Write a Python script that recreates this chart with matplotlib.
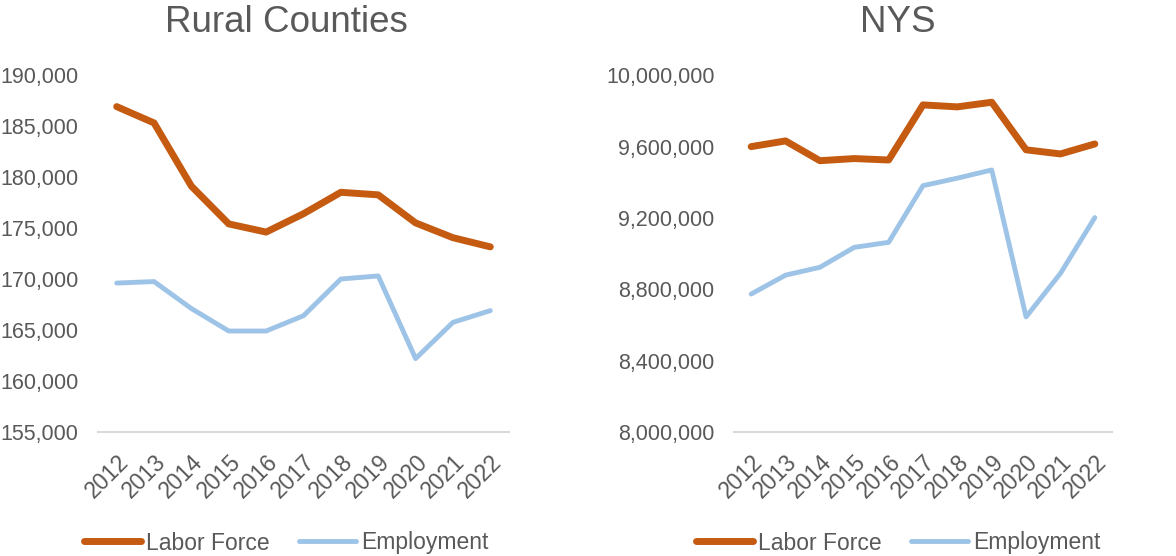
import matplotlib.pyplot as plt
from matplotlib.ticker import FuncFormatter

plt.rcParams['font.family'] = ['Liberation Sans', 'DejaVu Sans']

# Data
years = ['2012', '2013', '2014', '2015', '2016', '2017', '2018', '2019', '2020', '2021', '2022']

rural_labor = [186900, 185300, 179100, 175400, 174600, 176400, 178500, 178250, 175500, 174050, 173150]
rural_emp = [169600, 169750, 167100, 164900, 164900, 166400, 170000, 170300, 162200, 165750, 166900]

nys_labor = [9601000, 9633000, 9522000, 9534000, 9526000, 9835000, 9824000, 9850000, 9583000, 9560000, 9616000]
nys_emp = [8774000, 8880000, 8924000, 9036000, 9064000, 9382000, 9424000, 9470000, 8646000, 8890000, 9203000]

orange = '#C55A11'
blue = '#9DC3E6'
grey = '#595959'

fig = plt.figure(figsize=(11.76, 5.56), dpi=100)

ax1 = fig.add_axes([98/1176, 1-432/556, (509-98)/1176, (432-75)/556])
ax2 = fig.add_axes([734/1176, 1-432/556, (1112-734)/1176, (432-75.5)/556])

panels = [
    (ax1, rural_labor, rural_emp, 'Rural Counties', 155000, 190000, 5000, 286),
    (ax2, nys_labor, nys_emp, 'NYS', 8000000, 10000000, 400000, 898),
]

for ax, labor, emp, title, lo, hi, step, cx in panels:
    x = range(len(years))
    ax.plot(x, labor, color=orange, lw=5, solid_capstyle='round', solid_joinstyle='round', label='Labor Force')
    ax.plot(x, emp, color=blue, lw=3.5, solid_capstyle='round', solid_joinstyle='round', label='Employment')
    ax.set_xlim(-0.5, len(years) - 0.5)
    ax.set_ylim(lo, hi)
    ax.set_yticks(range(lo, hi + 1, step))
    ax.yaxis.set_major_formatter(FuncFormatter(lambda v, p: '{:,.0f}'.format(v)))
    ax.set_xticks(list(x))
    ax.set_xticklabels(years, rotation=45, ha='right', rotation_mode='anchor')
    ax.tick_params(axis='both', length=0, colors=grey)
    ax.tick_params(axis='y', pad=14, labelsize=15.5)
    ax.tick_params(axis='x', pad=13, labelsize=16.5)
    for s in ['top', 'right', 'left']:
        ax.spines[s].set_visible(False)
    ax.spines['bottom'].set_color('#D9D9D9')
    ax.spines['bottom'].set_linewidth(1.5)
    fig.text(cx/1176, 1-32/556, title, fontsize=26.5, color=grey, ha='center', va='baseline')
    leg = fig.legend(handles=ax.get_lines(), loc='center', bbox_to_anchor=(cx/1176, 1-543/556),
                     ncol=2, frameon=False, fontsize=16.5, handlelength=2.5, handletextpad=0.2,
                     columnspacing=1.3)
    for t in leg.get_texts():
        t.set_color(grey)

plt.savefig('out.png', dpi=100)
